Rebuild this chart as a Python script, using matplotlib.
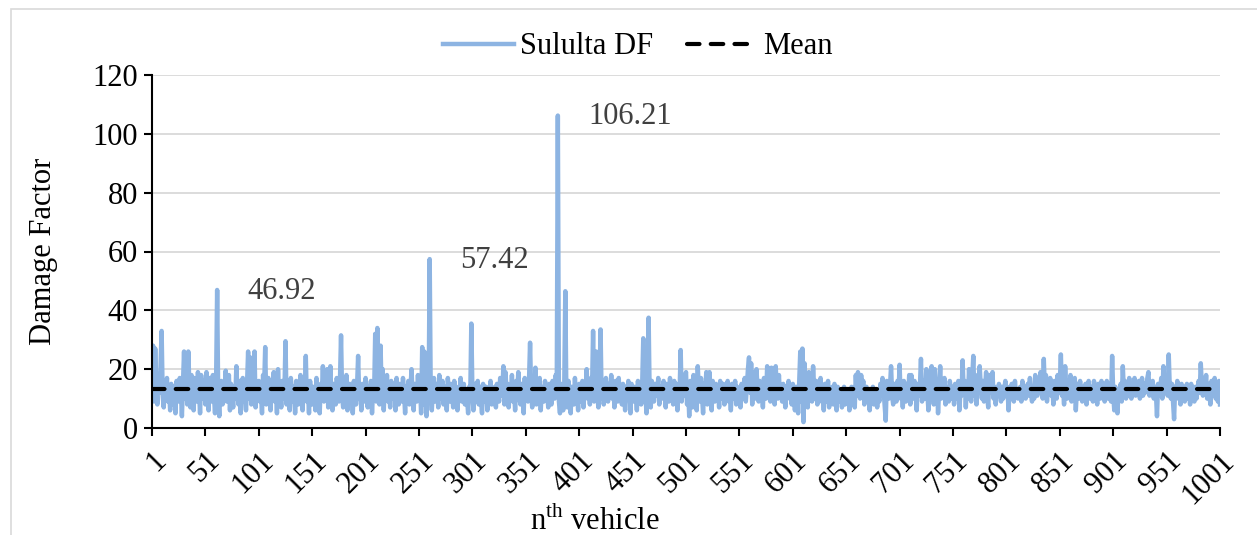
import numpy as np
import matplotlib
matplotlib.use('Agg')
from matplotlib import pyplot as plt
from matplotlib.patches import Rectangle

plt.rcParams['font.family'] = ['Liberation Serif', 'DejaVu Serif']
plt.rcParams['mathtext.fontset'] = 'custom'
plt.rcParams['mathtext.rm'] = 'Liberation Serif'

# Damage factor per vehicle (blocks of 50 vehicles)
df_001 = [10, 28, 9, 27, 14, 8, 18, 12, 21, 33, 11, 7, 16, 12, 17, 9, 13, 6, 15, 11,
          8, 14, 5, 16, 12, 9, 17, 13, 4, 15, 26, 10, 22, 8, 26, 14, 7, 18, 11, 6,
          17, 12, 9, 19, 13, 5, 18, 14, 10, 16]
df_051 = [8, 19, 12, 6, 17, 14, 9, 18, 11, 5, 15, 46.92, 10, 4, 13, 16, 8, 14, 11, 19.5,
          9, 13, 18, 6, 15, 11, 7, 14, 10, 21, 12, 8, 16, 5, 13, 17, 9, 12, 6, 15,
          26, 10, 24, 8, 19, 13, 26, 7, 14, 11]
df_101 = [16, 9, 12, 5, 18, 14, 27.5, 8, 13, 17, 10, 6, 15, 12, 19, 9, 14, 5, 20, 11,
          13, 7, 16, 10, 12, 29.5, 8, 15, 11, 6, 17, 12, 9, 14, 5, 16, 11, 8, 13, 18,
          10, 6, 15, 12, 24.5, 9, 13, 5, 16, 11]
df_151 = [8, 14, 12, 6, 17, 10, 13, 5, 15, 11, 21, 9, 19, 12, 20, 7, 14, 21, 10, 6,
          15, 12, 8, 17, 13, 9, 16, 31.5, 11, 7, 14, 10, 18, 6, 12, 15, 9, 13, 5, 16,
          11, 8, 14, 24.5, 10, 13, 6, 15, 12, 9]
df_201 = [17, 11, 7, 14, 10, 16, 5, 13, 12, 32, 9, 34, 14, 8, 28, 12, 20, 6, 15, 11,
          18, 9, 13, 7, 16, 12, 10, 14, 6, 17, 11, 8, 15, 13, 9, 17, 12, 5, 14, 10,
          16, 8, 13, 20, 11, 6, 15, 12, 9, 18]
df_251 = [10, 14, 5, 27.5, 8, 26, 12, 4, 16, 9, 57.42, 11, 6, 14, 17, 9, 12, 15, 7, 18,
          13, 10, 16, 8, 12, 14, 6, 17, 11, 9, 15, 12, 7, 16, 10, 13, 6, 14, 11, 17,
          9, 12, 15, 8, 13, 10, 5, 14, 11, 35.5]
df_301 = [12, 6, 15, 9, 13, 16, 8, 14, 10, 5, 15, 12, 9, 14, 6, 13, 11, 16, 8, 12,
          10, 14, 7, 15, 12, 9, 17, 13, 11, 21, 8, 19, 12, 15, 7, 14, 10, 18, 9, 13,
          6, 16, 12, 19, 10, 8, 15, 13, 5, 17]
df_351 = [11, 14, 9, 16, 29, 12, 7, 15, 10, 20.5, 8, 13, 11, 17, 6, 14, 12, 9, 16, 10,
          13, 7, 15, 11, 8, 16, 12, 10, 18, 14, 106.21, 9, 5, 15, 12, 6, 14, 46.5, 10, 7,
          16, 11, 5, 14, 13, 8, 17, 10, 12, 6]
df_401 = [15, 11, 9, 16, 7, 13, 12, 20, 10, 14, 8, 17, 12, 33, 9, 15, 26, 11, 7, 14,
          33.5, 10, 16, 8, 13, 17, 12, 9, 15, 11, 18, 10, 14, 7, 16, 12, 9, 17, 11, 13,
          8, 15, 12, 6, 14, 10, 16, 13, 5, 15]
df_451 = [11, 9, 14, 12, 6, 16, 10, 13, 8, 15, 30.5, 9, 12, 5, 14, 37.5, 10, 7, 16, 12,
          9, 15, 13, 11, 17, 8, 14, 12, 10, 16, 13, 7, 15, 11, 9, 17, 12, 14, 8, 16,
          10, 13, 6, 15, 12, 26.5, 9, 14, 11, 17]
df_501 = [19, 8, 14, 4, 16, 12, 7, 18, 10, 15, 6, 21, 13, 9, 17, 11, 5, 15, 12, 19,
          8, 14, 19, 10, 6, 16, 12, 9, 15, 11, 13, 7, 16, 12, 10, 15, 8, 14, 11, 16,
          9, 13, 6, 15, 12, 10, 16, 8, 14, 11]
df_551 = [13, 7, 15, 10, 12, 17, 9, 14, 20, 24, 12, 22, 8, 19, 15, 10, 20, 13, 9, 16,
          11, 14, 7, 17, 12, 10, 21, 13, 16, 9, 20.5, 12, 15, 8, 21, 13, 10, 18, 11, 14,
          9, 15, 12, 7, 14, 11, 16, 10, 13, 8]
df_601 = [15, 11, 6, 14, 12, 5, 16, 26, 9, 27, 2, 22, 10, 17, 7, 19, 12, 15, 9, 21,
          13, 10, 16, 8, 14, 11, 17, 9, 13, 6, 15, 12, 9, 16, 7, 13, 11, 14, 8, 15,
          10, 6, 14, 12, 9, 13, 7, 11, 14, 8]
df_651 = [12, 10, 13, 6, 11, 14, 9, 12, 7, 18, 11, 19, 14, 10, 18, 13, 16, 8, 12, 14,
          9, 13, 6, 12, 10, 14, 8, 11, 13, 7, 12, 9, 15, 11, 17, 13, 8, 2.5, 16, 12,
          10, 14, 21, 11, 8, 15, 13, 9, 16, 12]
df_701 = [21.5, 10, 14, 7, 16, 12, 9, 15, 11, 18, 8, 18, 13, 10, 16, 12, 6, 15, 11, 14,
          23.5, 9, 13, 16, 10, 20, 12, 6, 17, 11, 21, 14, 8, 20, 12, 16, 5, 13, 21, 10,
          15, 11, 17, 8, 14, 12, 9, 16, 13, 10]
df_751 = [14, 8, 15, 12, 10, 16, 6, 13, 11, 23, 12, 16, 7, 15, 10, 20, 13, 9, 17, 24.5,
          11, 15, 8, 18, 12, 21, 14, 10, 16, 9, 13, 19, 11, 7, 18, 12, 15, 19, 10, 14,
          8, 13, 11, 15, 12, 9, 14, 10, 13, 16]
df_801 = [11, 14, 6, 13, 10, 15, 12, 9, 16, 11, 13, 10, 12, 14, 9, 16, 11, 13, 10, 12,
          15, 11, 17, 12, 9, 14, 10, 18, 13, 11, 16, 12, 19, 14, 10, 23.5, 13, 18, 9, 15,
          12, 17, 11, 14, 8, 16, 13, 10, 18, 12]
df_851 = [15, 25, 11, 14, 8, 21, 13, 10, 16, 12, 18, 9, 14, 11, 17, 6, 13, 15, 10, 16,
          12, 9, 14, 11, 15, 8, 13, 16, 10, 12, 14, 9, 16, 11, 13, 8, 15, 12, 10, 16,
          11, 14, 9, 13, 16, 10, 12, 15, 9, 24.5]
df_901 = [12, 6, 14, 10, 5, 13, 11, 15, 9, 21, 12, 16, 10, 14, 11, 17, 13, 10, 15, 12,
          17, 11, 14, 12, 16, 10, 13, 17, 11, 15, 12, 14, 17, 19, 11, 15, 13, 16, 10, 14,
          12, 4, 15, 11, 13, 17, 10, 21, 14, 12]
df_951 = [16, 11, 25, 13, 10, 15, 9, 3, 14, 12, 16, 10, 13, 8, 15, 11, 14, 9, 12, 15,
          10, 13, 8, 15, 11, 12, 9, 14, 10, 13, 16, 12, 22, 14, 11, 17, 13, 18, 10, 15,
          12, 8, 16, 11, 14, 17, 10, 13, 9, 16, 8]

sululta_df = (df_001 + df_051 + df_101 + df_151 + df_201 + df_251 + df_301 + df_351
              + df_401 + df_451 + df_501 + df_551 + df_601 + df_651 + df_701 + df_751
              + df_801 + df_851 + df_901 + df_951)
mean_df = 13.2

peak_labels = ['46.92', '57.42', '106.21']
peak_vehicle = [62, 261, 381]
peak_value = [46.92, 57.42, 106.21]

tick_vehicles = list(range(1, 1002, 50))

vehicle = np.arange(1, len(sululta_df) + 1)

fig = plt.figure(figsize=(12.57, 5.35), dpi=100)
fig.patches.append(Rectangle((11 / 1257, -0.01), 1.0, 1 - 9 / 535 + 0.01,
                             transform=fig.transFigure, fill=False,
                             edgecolor='#d9d9d9', linewidth=1.2))
ax = fig.add_axes([152 / 1257, 1 - 428 / 535, (1220 - 152) / 1257, (428 - 75) / 535])

ax.plot(vehicle, sululta_df, color='#8db4e2', linewidth=3.2, label='Sululta DF',
        solid_joinstyle='round', zorder=2)
ax.plot([vehicle[0], vehicle[-1]], [mean_df, mean_df], color='black', linewidth=3,
        dashes=(3.0, 2.7), dash_capstyle='round', label='Mean', zorder=3)

ax.set_xlim(1, 1001)
ax.set_ylim(0, 120)
ax.set_yticks(range(0, 121, 20))
ax.set_xticks(tick_vehicles)
ax.set_xticklabels([str(t) for t in tick_vehicles], rotation=45, ha='right',
                   rotation_mode='anchor')
ax.tick_params(axis='both', labelsize=22, direction='out', length=6, width=1.5, color='black')
ax.tick_params(axis='x', pad=7)
ax.tick_params(axis='y', pad=4)
ax.grid(axis='y', color='#d9d9d9', linewidth=1.3)
ax.set_axisbelow(True)
for s in ['top', 'right']:
    ax.spines[s].set_visible(False)
for s in ['left', 'bottom']:
    ax.spines[s].set_linewidth(1.5)

for lab, vx, vy in zip(peak_labels, peak_vehicle, peak_value):
    ax.annotate(lab, (vx, vy), xytext=(22, -1), textcoords='offset points',
                fontsize=22, color='#404040', ha='left', va='center')

ax.set_ylabel('Damage Factor', fontsize=22)
ax.yaxis.set_label_coords(-0.088, 0.5)
fig.text(595 / 1257, 1 - 521 / 535, r'n$^{\mathrm{th}}$ vehicle', fontsize=22,
         ha='center', va='center')

fig.legend(loc='center', bbox_to_anchor=(638 / 1257, 1 - 47 / 535), ncol=2, frameon=False,
           fontsize=22, handlelength=2.3, columnspacing=1.1, handletextpad=0.2)

fig.savefig('out.png', dpi=100)
